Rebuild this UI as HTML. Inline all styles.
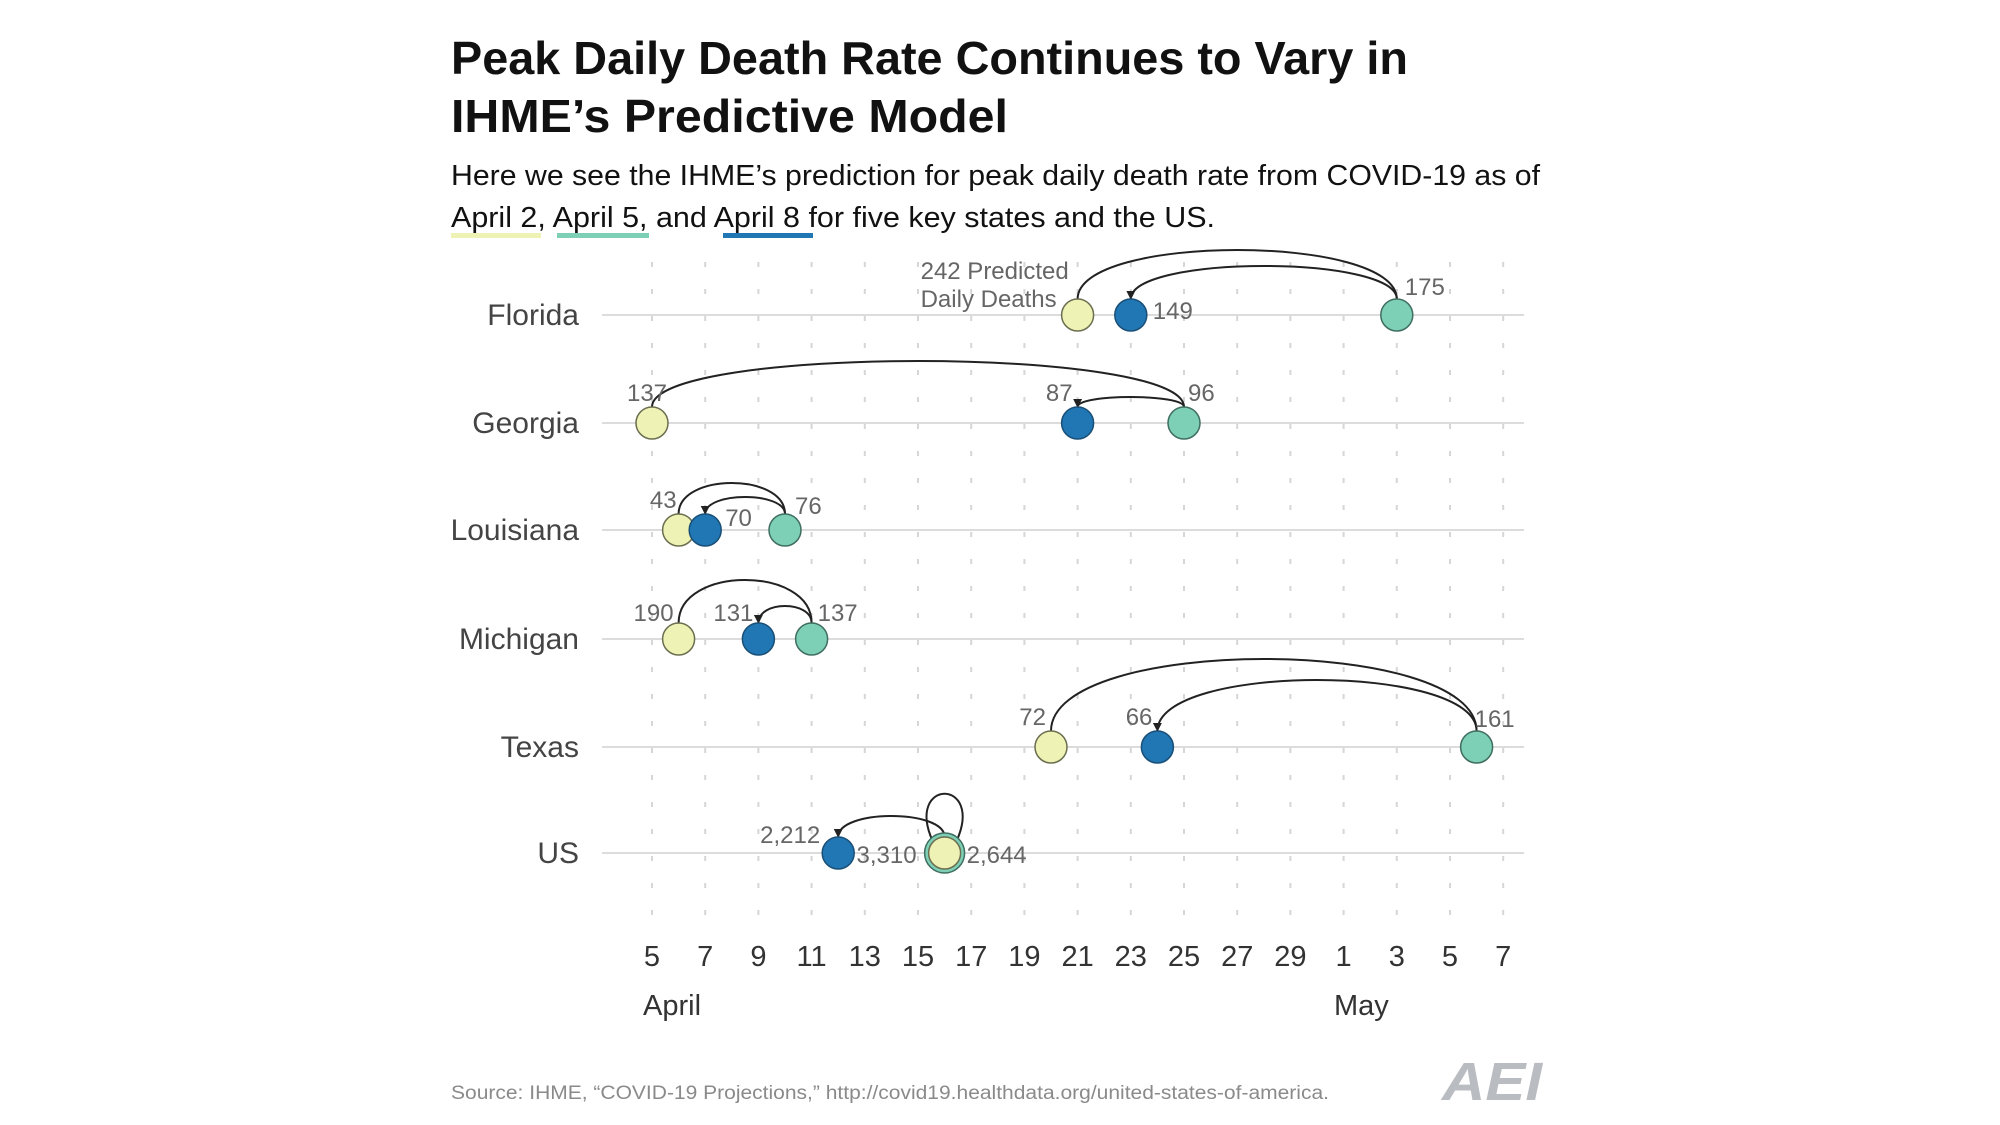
<!DOCTYPE html>
<html><head><meta charset="utf-8"><style>
html,body{margin:0;padding:0;background:#fff;}
svg{display:block;font-family:"Liberation Sans",sans-serif;}
</style></head><body>
<svg id="chart" width="2000" height="1125" viewBox="0 0 2000 1125">
<defs><marker id="arr" viewBox="0 0 10 10" refX="9" refY="5" markerWidth="9" markerHeight="9" markerUnits="userSpaceOnUse" orient="auto"><path d="M0,0 L10,5 L0,10 z" fill="#222"/></marker></defs>
<text x="451" y="74" font-size="46" font-weight="bold" fill="#111" textLength="957" lengthAdjust="spacingAndGlyphs">Peak Daily Death Rate Continues to Vary in</text>
<text x="451" y="132" font-size="46" font-weight="bold" fill="#111" textLength="557" lengthAdjust="spacingAndGlyphs">IHME’s Predictive Model</text>
<text x="451" y="185" font-size="29" fill="#111" textLength="1089" lengthAdjust="spacingAndGlyphs">Here we see the IHME’s prediction for peak daily death rate from COVID-19 as of</text>
<text x="451" y="227" font-size="29" fill="#111" textLength="764" lengthAdjust="spacingAndGlyphs">April 2, April 5, and April 8 for five key states and the US.</text>
<rect x="451" y="233" width="90" height="5" fill="#eef3b5"/>
<rect x="557" y="233" width="92" height="5" fill="#7dcfb6"/>
<rect x="723" y="233" width="90" height="5" fill="#2077b4"/>
<g id="grid"></g><g id="rows"></g><g id="arcs"></g><g id="marks"></g><g id="labels"></g><g id="axis"></g>
<text x="643" y="1015" font-size="29" fill="#333">April</text>
<text x="1334" y="1015" font-size="29" fill="#333">May</text>
<text x="451" y="1099" font-size="19" fill="#8a8a8a" textLength="878" lengthAdjust="spacingAndGlyphs">Source: IHME, “COVID-19 Projections,” http://covid19.healthdata.org/united-states-of-america.</text>
<text x="1442" y="1100" font-size="54" font-weight="bold" font-style="italic" fill="#b9bcc0" textLength="100" lengthAdjust="spacingAndGlyphs">AEI</text>
</svg>
<script>
// Axis position units (April 5 = 0, two units per tick)
const states = ["Florida","Georgia","Louisiana","Michigan","Texas","US"];
const apr2Days = [16, 0, 1, 1, 15, 11];
const apr5Days = [28, 20, 5, 6, 31, 11];
const apr8Days = [18, 16, 2, 4, 19, 7];
const apr2Vals = ["242 Predicted|Daily Deaths","137","43","190","72","2,644"];
const apr5Vals = ["175","96","76","137","161","3,310"];
const apr8Vals = ["149","87","70","131","66","2,212"];
const tickDays = [0,2,4,6,8,10,12,14,16,18,20,22,24,26,28,30,32];
const tickLabels = ["5","7","9","11","13","15","17","19","21","23","25","27","29","1","3","5","7"];

const NS="http://www.w3.org/2000/svg";
const X = d => 652 + d*26.6;
const rowY = [315,423,530,639,747,853];
const outerPeak=[250,361,483,580,659,803];
const innerPeak=[266,397,497,606,680,816];
function mk(tag,attrs,parent){const e=document.createElementNS(NS,tag);for(const k in attrs)e.setAttribute(k,attrs[k]);document.getElementById(parent).appendChild(e);return e;}

tickDays.forEach((d,i)=>{
  const g=mk('line',{x1:X(d),x2:X(d),y1:262,y2:925,stroke:'#d6d6d6','stroke-width':2,'stroke-dasharray':'5 22'},'grid');
  
  
  const t=mk('text',{x:X(d),y:966,'font-size':29,fill:'#333','text-anchor':'middle'},'axis');
  t.textContent=tickLabels[i];
  
  
});

function arcPath(x1,x2,y0,peak){const h=(y0-peak)/0.75;return `M${x1},${y0} C${x1},${y0-h} ${x2},${y0-h} ${x2},${y0}`;}

states.forEach((s,i)=>{
  const y=rowY[i];
  const l=mk('line',{x1:602,x2:1524,y1:y,y2:y,stroke:'#dcdcdc','stroke-width':2},'rows');
  
  
  const t=mk('text',{x:579,y:y+10,'font-size':30,fill:'#444','text-anchor':'end'},'rows');
  t.textContent=s;
  
  
  const x2=X(apr2Days[i]),x5=X(apr5Days[i]),x8=X(apr8Days[i]);
  const top=y-16;
  if(apr2Days[i]===apr5Days[i]){
    const p=mk('path',{d:`M${x5-12},${y-12} C${x5-40},${y-75} ${x5+40},${y-75} ${x5+12},${y-12}`,fill:'none',stroke:'#222','stroke-width':2},'arcs');
    
    
  } else {
    const p=mk('path',{d:arcPath(x2,x5,top,outerPeak[i]),fill:'none',stroke:'#222','stroke-width':2},'arcs');
    
    
  }
  const q=mk('path',{d:arcPath(x5,x8,top,innerPeak[i]),fill:'none',stroke:'#222','stroke-width':2,'marker-end':'url(#arr)'},'arcs');
  
  
  const c5=mk('circle',{cx:x5,cy:y,r:apr2Days[i]===apr5Days[i]?20:16,fill:'#7dcfb6',stroke:'#3f6e60','stroke-width':1.5},'marks');
  
  
  const c2=mk('circle',{cx:x2,cy:y,r:16,fill:'#eef3b5',stroke:'#6b6e4f','stroke-width':1.5},'marks');
  
  
  const c8=mk('circle',{cx:x8,cy:y,r:16,fill:'#2077b4',stroke:'#1a4f77','stroke-width':1.5},'marks');
  
  
});

// value label offsets per row (style only)
const off2=[[-157,-36,'start'],[-5,-22,'middle'],[-2,-22,'end'],[-5,-18,'end'],[-5,-22,'end'],[22,10,'start']];
const off5=[[8,-20,'start'],[4,-22,'start'],[10,-16,'start'],[6,-18,'start'],[-2,-20,'start'],[-28,10,'end']];
const off8=[[22,4,'start'],[-5,-22,'end'],[20,-4,'start'],[-5,-18,'end'],[-5,-22,'end'],[-18,-10,'end']];
function lab(x,y,txt,o,name){
  const parts=txt.split('|');
  parts.forEach((p,k)=>{
    const t=mk('text',{x:x+o[0],y:y+o[1]+k*28,'font-size':24,fill:'#666','text-anchor':o[2]},'labels');
    t.textContent=p;
    
    
  });
}
states.forEach((s,i)=>{
  const y=rowY[i];
  lab(X(apr2Days[i]),y,apr2Vals[i],off2[i],'value-label-april-2');
  lab(X(apr5Days[i]),y,apr5Vals[i],off5[i],'value-label-april-5');
  lab(X(apr8Days[i]),y,apr8Vals[i],off8[i],'value-label-april-8');
});
</script>
</body></html>
